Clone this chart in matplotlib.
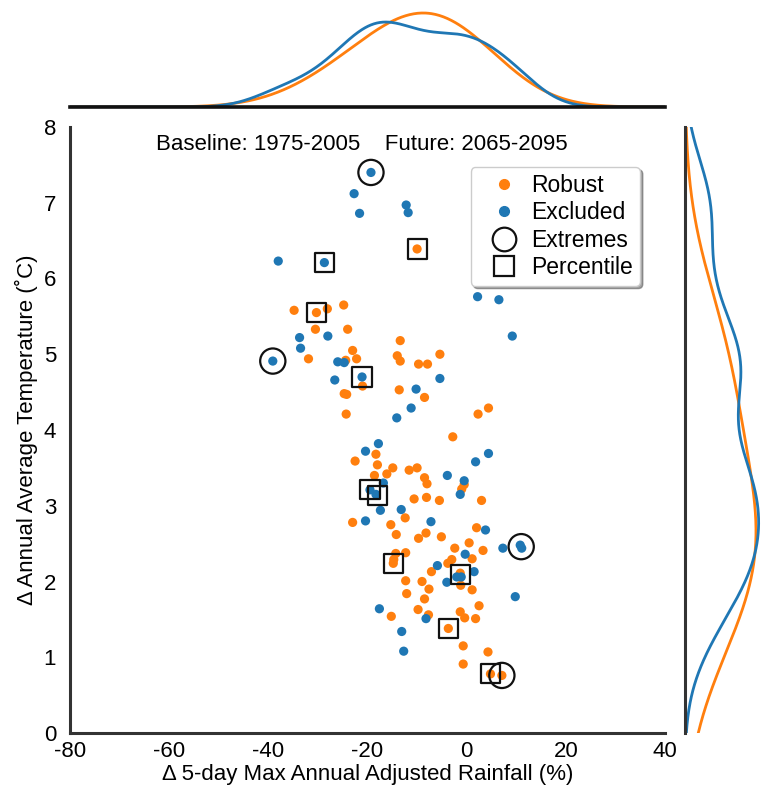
import numpy as np
import matplotlib
matplotlib.use("Agg")
import matplotlib.pyplot as plt
from matplotlib.lines import Line2D

plt.rcParams["font.family"] = ["Liberation Sans", "DejaVu Sans"]
plt.rcParams["axes.unicode_minus"] = False

# Change in 5-day max rainfall (%) and annual temperature (°C) per model run
robust_x = [-10.0, -34.8, -30.3, -28.1, -24.8, -30.5, -24.0, -13.4, -23.0, -31.9,
            -22.2, -24.4, -21.0, -24.7, -24.2, -24.3, -14.0, -13.4, -9.7, -7.9,
            -5.4, -13.6, -8.5, 2.3, 4.4, -2.8, -18.3, -22.5, -18.0, -14.9,
            -11.6, -10.0, -16.1, -18.6, -8.5, -8.0, -0.5, -1.0, -10.6, -8.1,
            -5.5, 3.0, -12.4, -23.0, -15.3, -14.2, -9.7, -8.2, -5.1, 2.0,
            0.5, -2.4, 3.3, 1.1, -3.0, -3.8, -14.3, -12.3, -14.8, -14.7,
            -7.1, -1.3, -1.2, -12.3, -9.0, -7.6, -12.1, 1.1, -8.5, 2.5,
            -9.8, -15.2, -7.7, -1.3, -0.4, 1.8, -3.7, -0.7, 4.3, -0.7,
            4.8, 7.1]
robust_y = [6.39, 5.58, 5.55, 5.60, 5.65, 5.33, 5.33, 5.18, 5.05, 4.94,
            4.94, 4.92, 4.58, 4.48, 4.47, 4.21, 4.98, 4.91, 4.87, 4.87,
            5.00, 4.53, 4.43, 4.21, 4.29, 3.91, 3.68, 3.59, 3.54, 3.50,
            3.47, 3.50, 3.42, 3.40, 3.37, 3.29, 3.28, 3.22, 3.09, 3.11,
            3.07, 3.07, 2.84, 2.78, 2.75, 2.62, 2.57, 2.64, 2.59, 2.71,
            2.51, 2.44, 2.41, 2.30, 2.29, 2.24, 2.37, 2.38, 2.24, 2.29,
            2.13, 2.11, 1.95, 2.01, 2.00, 1.90, 1.84, 1.89, 1.77, 1.68,
            1.63, 1.54, 1.56, 1.60, 1.52, 1.51, 1.38, 1.15, 1.07, 0.91,
            0.78, 0.76]

excluded_x = [-19.3, -22.7, -21.6, -12.2, -11.8, -38.0, -28.7, -33.7, -28.0, -33.5,
              -39.1, -26.0, -24.7, -26.6, -21.1, -5.4, -10.2, -11.2, -14.1, 2.2,
              6.5, 9.2, -17.8, -20.4, -16.8, -3.9, -0.5, -1.3, 1.8, 4.4,
              -19.5, -18.3, -17.4, -13.2, -20.4, -7.2, 3.8, 7.3, 10.8, 11.1,
              -0.3, -5.9, 1.5, -2.0, -1.1, -4.0, 9.8, -17.6, -8.2, -13.1,
              -12.7]
excluded_y = [7.40, 7.12, 6.86, 6.97, 6.87, 6.23, 6.21, 5.22, 5.24, 5.08,
              4.91, 4.90, 4.89, 4.66, 4.70, 4.68, 4.54, 4.29, 4.16, 5.76,
              5.72, 5.24, 3.82, 3.72, 3.30, 3.40, 3.33, 3.15, 3.58, 3.69,
              3.21, 3.15, 2.94, 2.95, 2.80, 2.79, 2.68, 2.44, 2.48, 2.44,
              2.36, 2.21, 2.13, 2.06, 2.06, 1.99, 1.80, 1.64, 1.51, 1.34,
              1.08]

extremes_x = [-19.3, -39.1, 11.0, 7.1]
extremes_y = [7.40, 4.91, 2.46, 0.76]

percentile_x = [-10.0, -28.7, -30.3, -21.1, -19.5, -18.0, -14.8, -1.3, -3.7, 4.8]
percentile_y = [6.39, 6.21, 5.55, 4.70, 3.22, 3.14, 2.24, 2.09, 1.38, 0.78]

ORANGE = "#ff7f0e"
BLUE = "#1f77b4"
SPINE = "#333333"
FS = 16


def gaussian_kde(data, grid, factor):
    data = np.asarray(data, dtype=float)
    n = data.size
    bw = factor * data.std(ddof=1) * n ** (-1 / 5)
    z = (grid[:, None] - data[None, :]) / bw
    return np.exp(-0.5 * z ** 2).sum(axis=1) / (n * bw * np.sqrt(2 * np.pi))


W, H = 767, 791
fig = plt.figure(figsize=(W / 100, H / 100), dpi=100)


def px_axes(left, top, right, bottom):
    return fig.add_axes([left / W, 1 - bottom / H, (right - left) / W, (bottom - top) / H])


ax = px_axes(70, 127, 665, 733)
ax_top = px_axes(70, 4, 665, 107)
ax_right = px_axes(685, 127, 850, 733)

# Main scatter
ax.scatter(robust_x, robust_y, s=44, color=ORANGE, edgecolors="none", zorder=3)
ax.scatter(excluded_x, excluded_y, s=44, color=BLUE, edgecolors="none", zorder=3)
ax.scatter(extremes_x, extremes_y, s=330, marker="o", facecolors="none",
           edgecolors="#111111", linewidths=1.6, zorder=4)
ax.scatter(percentile_x, percentile_y, s=190, marker="s", facecolors="none",
           edgecolors="#111111", linewidths=1.6, zorder=4)

ax.set_xlim(-80, 40)
ax.set_ylim(0, 8)
ax.set_xticks(np.arange(-80, 41, 20))
ax.set_yticks(np.arange(0, 9, 1))
ax.tick_params(axis="y", length=0, labelsize=FS, pad=10, colors="black")
ax.tick_params(axis="x", length=0, labelsize=FS, pad=6, colors="black")
for side in ("top", "right"):
    ax.spines[side].set_visible(False)
for side in ("left", "bottom"):
    ax.spines[side].set_color(SPINE)
    ax.spines[side].set_linewidth(2.2)
ax.set_xlabel("Δ 5-day Max Annual Adjusted Rainfall (%)", fontsize=FS, labelpad=1)
ax.set_ylabel("Δ Annual Average Temperature (˚C)", fontsize=FS, labelpad=4)
ax.text(0.49, 0.988, "Baseline: 1975-2005    Future: 2065-2095", transform=ax.transAxes,
        ha="center", va="top", fontsize=FS)

handles = [
    Line2D([], [], ls="none", marker="o", color=ORANGE, markersize=7),
    Line2D([], [], ls="none", marker="o", color=BLUE, markersize=7),
    Line2D([], [], ls="none", marker="o", markerfacecolor="none",
           markeredgecolor="#111111", markeredgewidth=1.6, markersize=17),
    Line2D([], [], ls="none", marker="s", markerfacecolor="none",
           markeredgecolor="#111111", markeredgewidth=1.6, markersize=15),
]
leg = ax.legend(handles, ["Robust", "Excluded", "Extremes", "Percentile"],
                loc="upper right", bbox_to_anchor=(0.958, 0.934), borderaxespad=0,
                fontsize=16.5, frameon=True, shadow=True, framealpha=1, fancybox=True,
                handletextpad=0.05, labelspacing=0.19, borderpad=0.3, handlelength=2.3)
leg.get_frame().set_edgecolor("#cccccc")

# Top marginal: rainfall densities
gx = np.linspace(-80, 40, 600)
top_o = gaussian_kde(robust_x, gx, 2.4)
top_b = gaussian_kde(excluded_x, gx, 0.95)
ax_top.plot(gx, top_o, color=ORANGE, lw=2)
ax_top.plot(gx, top_b, color=BLUE, lw=2)
ax_top.set_xlim(-80, 40)
ax_top.set_ylim(0, max(top_b.max(), top_o.max()) * 103 / 94)
ax_top.axis("off")
ax_top.axhline(0, color="#111111", lw=2.6, clip_on=False)

# Right marginal: temperature densities
gy = np.linspace(0, 8, 600)
right_o = gaussian_kde(robust_y, gy, 1.8)
right_b = gaussian_kde(excluded_y, gy, 0.75)
ax_right.plot(right_o, gy, color=ORANGE, lw=2)
ax_right.plot(right_b, gy, color=BLUE, lw=2)
ax_right.set_ylim(0, 8)
ax_right.set_xlim(0, right_o.max() * 165 / 71)
ax_right.axis("off")
ax_right.axvline(0, color=SPINE, lw=2.2, clip_on=False)

fig.savefig("out.png", dpi=100)
